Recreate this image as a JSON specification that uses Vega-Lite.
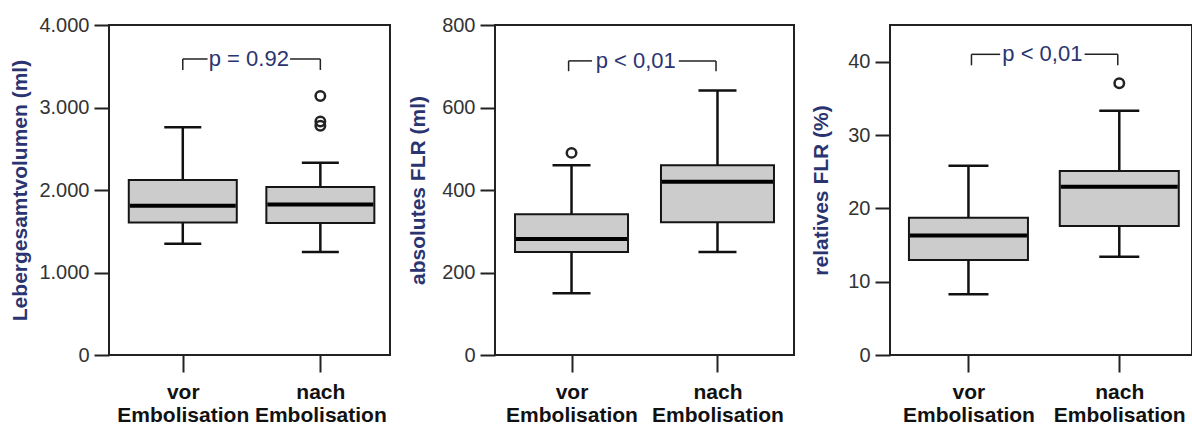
{
  "$schema": "https://vega.github.io/schema/vega-lite/v6.json",
  "padding": {"left": 8, "top": 14, "right": 0, "bottom": 0},
  "bounds": "flush",
  "spacing": 105,
  "datasets": {
    "boxA": [
      {"x": 1, "low": 1350, "q1": 1605, "med": 1810, "q3": 2120, "high": 2760},
      {"x": 2, "low": 1250, "q1": 1600, "med": 1825, "q3": 2035, "high": 2330}
    ],
    "outA": [
      {"x": 2, "v": 3140},
      {"x": 2, "v": 2830},
      {"x": 2, "v": 2780}
    ],
    "segA": [
      {"x": 1, "x2": 1, "y": 3455, "y2": 3588},
      {"x": 1, "x2": 1.18, "y": 3588, "y2": 3588},
      {"x": 1.78, "x2": 2, "y": 3588, "y2": 3588},
      {"x": 2, "x2": 2, "y": 3588, "y2": 3455}
    ],
    "txtA": [{"x": 1.48, "y": 3588, "label": "p = 0.92"}],
    "boxB": [
      {"x": 1, "low": 150, "q1": 250, "med": 281, "q3": 341, "high": 460},
      {"x": 2, "low": 250, "q1": 322, "med": 420, "q3": 460, "high": 641}
    ],
    "outB": [
      {"x": 1, "v": 490}
    ],
    "segB": [
      {"x": 0.98, "x2": 0.98, "y": 688, "y2": 713},
      {"x": 0.98, "x2": 1.14, "y": 713, "y2": 713},
      {"x": 1.735, "x2": 1.99, "y": 713, "y2": 713},
      {"x": 1.99, "x2": 1.99, "y": 713, "y2": 688}
    ],
    "txtB": [{"x": 1.44, "y": 713, "label": "p < 0,01"}],
    "boxC": [
      {"x": 1, "low": 8.3, "q1": 12.95, "med": 16.3, "q3": 18.7, "high": 25.8},
      {"x": 2, "low": 13.4, "q1": 17.6, "med": 22.95, "q3": 25.1, "high": 33.3}
    ],
    "outC": [
      {"x": 2, "v": 37.05}
    ],
    "segC": [
      {"x": 1.02, "x2": 1.02, "y": 39.5, "y2": 41},
      {"x": 1.02, "x2": 1.21, "y": 41, "y2": 41},
      {"x": 1.77, "x2": 1.99, "y": 41, "y2": 41},
      {"x": 1.99, "x2": 1.99, "y": 41, "y2": 39.5}
    ],
    "txtC": [{"x": 1.49, "y": 41, "label": "p < 0,01"}]
  },
  "hconcat": [
    {
      "width": 281,
      "height": 330,
      "layer": [
        {
          "data": {"name": "boxA"},
          "mark": {"type": "rule", "strokeWidth": 2.5, "color": "#111"},
          "encoding": {
            "x": {"field": "x", "type": "quantitative", "title": null,
                  "scale": {"domain": [0.5, 2.47], "nice": false, "zero": false},
                  "axis": {"values": [1, 2], "labelExpr": "datum.value == 1 ? ['vor', 'Embolisation'] : ['nach', 'Embolisation']"}},
            "y": {"field": "low", "type": "quantitative", "title": "Lebergesamtvolumen (ml)",
                  "scale": {"domain": [0, 4000], "nice": false, "zero": false},
                  "axis": {"values": [0, 1000, 2000, 3000, 4000], "labelExpr": "replace(format(datum.value, ','), ',', '.')", "titleX": -89, "titleY": 165, "titleAngle": -90, "titleAlign": "center", "titleBaseline": "middle"}},
            "y2": {"field": "high"}
          }
        },
        {
          "data": {"name": "boxA"},
          "mark": {"type": "bar", "size": 108, "fill": "#cccccc", "stroke": "#151515", "strokeWidth": 2, "opacity": 1},
          "encoding": {"x": {"field": "x", "type": "quantitative"}, "y": {"field": "q1", "type": "quantitative"}, "y2": {"field": "q3"}}
        },
        {
          "data": {"name": "boxA"},
          "mark": {"type": "tick", "orient": "horizontal", "size": 106, "thickness": 4, "color": "#000", "opacity": 1},
          "encoding": {"x": {"field": "x", "type": "quantitative"}, "y": {"field": "med", "type": "quantitative"}}
        },
        {
          "data": {"name": "boxA"},
          "mark": {"type": "tick", "orient": "horizontal", "size": 37, "thickness": 2.5, "color": "#111", "opacity": 1},
          "encoding": {"x": {"field": "x", "type": "quantitative"}, "y": {"field": "low", "type": "quantitative"}}
        },
        {
          "data": {"name": "boxA"},
          "mark": {"type": "tick", "orient": "horizontal", "size": 37, "thickness": 2.5, "color": "#111", "opacity": 1},
          "encoding": {"x": {"field": "x", "type": "quantitative"}, "y": {"field": "high", "type": "quantitative"}}
        },
        {
          "data": {"name": "outA"},
          "mark": {"type": "point", "filled": false, "size": 90, "strokeWidth": 2.5, "color": "#222", "opacity": 1},
          "encoding": {"x": {"field": "x", "type": "quantitative"}, "y": {"field": "v", "type": "quantitative"}}
        },
        {
          "data": {"name": "segA"},
          "mark": {"type": "rule", "strokeWidth": 1.5, "color": "#222"},
          "encoding": {"x": {"field": "x", "type": "quantitative"}, "x2": {"field": "x2"}, "y": {"field": "y", "type": "quantitative"}, "y2": {"field": "y2"}}
        },
        {
          "data": {"name": "txtA"},
          "mark": {"type": "text", "fontSize": 22, "color": "#2a3470", "align": "center", "baseline": "middle"},
          "encoding": {"x": {"field": "x", "type": "quantitative"}, "y": {"field": "y", "type": "quantitative"}, "text": {"field": "label"}}
        }
      ]
    },
    {
      "bounds": "flush",
      "spacing": 96,
      "hconcat": [
        {
          "width": 299,
          "height": 330,
          "layer": [
            {
              "data": {"name": "boxB"},
              "mark": {"type": "rule", "strokeWidth": 2.5, "color": "#111"},
              "encoding": {
                "x": {"field": "x", "type": "quantitative", "title": null,
                      "scale": {"domain": [0.51, 2.49], "nice": false, "zero": false},
                      "axis": {"values": [1, 2], "labelExpr": "datum.value == 1 ? ['vor', 'Embolisation'] : ['nach', 'Embolisation']"}},
                "y": {"field": "low", "type": "quantitative", "title": "absolutes FLR (ml)",
                      "scale": {"domain": [0, 800], "nice": false, "zero": false},
                      "axis": {"values": [0, 200, 400, 600, 800], "titleX": -77, "titleY": 165, "titleAngle": -90, "titleAlign": "center", "titleBaseline": "middle"}},
                "y2": {"field": "high"}
              }
            },
            {
              "data": {"name": "boxB"},
              "mark": {"type": "bar", "size": 113, "fill": "#cccccc", "stroke": "#151515", "strokeWidth": 2, "opacity": 1},
              "encoding": {"x": {"field": "x", "type": "quantitative"}, "y": {"field": "q1", "type": "quantitative"}, "y2": {"field": "q3"}}
            },
            {
              "data": {"name": "boxB"},
              "mark": {"type": "tick", "orient": "horizontal", "size": 111, "thickness": 4, "color": "#000", "opacity": 1},
              "encoding": {"x": {"field": "x", "type": "quantitative"}, "y": {"field": "med", "type": "quantitative"}}
            },
            {
              "data": {"name": "boxB"},
              "mark": {"type": "tick", "orient": "horizontal", "size": 38, "thickness": 2.5, "color": "#111", "opacity": 1},
              "encoding": {"x": {"field": "x", "type": "quantitative"}, "y": {"field": "low", "type": "quantitative"}}
            },
            {
              "data": {"name": "boxB"},
              "mark": {"type": "tick", "orient": "horizontal", "size": 38, "thickness": 2.5, "color": "#111", "opacity": 1},
              "encoding": {"x": {"field": "x", "type": "quantitative"}, "y": {"field": "high", "type": "quantitative"}}
            },
            {
              "data": {"name": "outB"},
              "mark": {"type": "point", "filled": false, "size": 90, "strokeWidth": 2.5, "color": "#222", "opacity": 1},
              "encoding": {"x": {"field": "x", "type": "quantitative"}, "y": {"field": "v", "type": "quantitative"}}
            },
            {
              "data": {"name": "segB"},
              "mark": {"type": "rule", "strokeWidth": 1.5, "color": "#222"},
              "encoding": {"x": {"field": "x", "type": "quantitative"}, "x2": {"field": "x2"}, "y": {"field": "y", "type": "quantitative"}, "y2": {"field": "y2"}}
            },
            {
              "data": {"name": "txtB"},
              "mark": {"type": "text", "fontSize": 22, "color": "#2a3470", "align": "center", "baseline": "middle"},
              "encoding": {"x": {"field": "x", "type": "quantitative"}, "y": {"field": "y", "type": "quantitative"}, "text": {"field": "label"}}
            }
          ]
        },
        {
          "width": 302,
          "height": 330,
          "layer": [
            {
              "data": {"name": "boxC"},
              "mark": {"type": "rule", "strokeWidth": 2.5, "color": "#111"},
              "encoding": {
                "x": {"field": "x", "type": "quantitative", "title": null,
                      "scale": {"domain": [0.513, 2.449], "nice": false, "zero": false},
                      "axis": {"values": [1, 2], "labelExpr": "datum.value == 1 ? ['vor', 'Embolisation'] : ['nach', 'Embolisation']"}},
                "y": {"field": "low", "type": "quantitative", "title": "relatives FLR (%)",
                      "scale": {"domain": [0, 45], "nice": false, "zero": false},
                      "axis": {"values": [0, 10, 20, 30, 40], "titleX": -69, "titleY": 165, "titleAngle": -90, "titleAlign": "center", "titleBaseline": "middle"}},
                "y2": {"field": "high"}
              }
            },
            {
              "data": {"name": "boxC"},
              "mark": {"type": "bar", "size": 119, "fill": "#cccccc", "stroke": "#151515", "strokeWidth": 2, "opacity": 1},
              "encoding": {"x": {"field": "x", "type": "quantitative"}, "y": {"field": "q1", "type": "quantitative"}, "y2": {"field": "q3"}}
            },
            {
              "data": {"name": "boxC"},
              "mark": {"type": "tick", "orient": "horizontal", "size": 117, "thickness": 4, "color": "#000", "opacity": 1},
              "encoding": {"x": {"field": "x", "type": "quantitative"}, "y": {"field": "med", "type": "quantitative"}}
            },
            {
              "data": {"name": "boxC"},
              "mark": {"type": "tick", "orient": "horizontal", "size": 40, "thickness": 2.5, "color": "#111", "opacity": 1},
              "encoding": {"x": {"field": "x", "type": "quantitative"}, "y": {"field": "low", "type": "quantitative"}}
            },
            {
              "data": {"name": "boxC"},
              "mark": {"type": "tick", "orient": "horizontal", "size": 40, "thickness": 2.5, "color": "#111", "opacity": 1},
              "encoding": {"x": {"field": "x", "type": "quantitative"}, "y": {"field": "high", "type": "quantitative"}}
            },
            {
              "data": {"name": "outC"},
              "mark": {"type": "point", "filled": false, "size": 90, "strokeWidth": 2.5, "color": "#222", "opacity": 1},
              "encoding": {"x": {"field": "x", "type": "quantitative"}, "y": {"field": "v", "type": "quantitative"}}
            },
            {
              "data": {"name": "segC"},
              "mark": {"type": "rule", "strokeWidth": 1.5, "color": "#222"},
              "encoding": {"x": {"field": "x", "type": "quantitative"}, "x2": {"field": "x2"}, "y": {"field": "y", "type": "quantitative"}, "y2": {"field": "y2"}}
            },
            {
              "data": {"name": "txtC"},
              "mark": {"type": "text", "fontSize": 22, "color": "#2a3470", "align": "center", "baseline": "middle"},
              "encoding": {"x": {"field": "x", "type": "quantitative"}, "y": {"field": "y", "type": "quantitative"}, "text": {"field": "label"}}
            }
          ]
        }
      ]
    }
  ],
  "config": {
    "font": "Liberation Sans",
    "view": {"stroke": "#222", "strokeWidth": 2},
    "axis": {"grid": false, "domain": false, "tickColor": "#222", "tickWidth": 2, "labelColor": "#333", "labelFontSize": 20, "labelFont": "Liberation Sans", "titleColor": "#2a3470", "titleFontSize": 21, "titleFontWeight": "bold", "titleFont": "Liberation Sans"},
    "axisX": {"labelFontWeight": "bold", "labelColor": "#111", "labelFontSize": 21, "tickSize": 17, "labelPadding": 9, "labelLineHeight": 23, "labelBaseline": "top", "labelAlign": "center", "labelFlush": false, "labelOverlap": false},
    "axisY": {"tickSize": 15, "labelPadding": 5, "labelOverlap": false}
  }
}
